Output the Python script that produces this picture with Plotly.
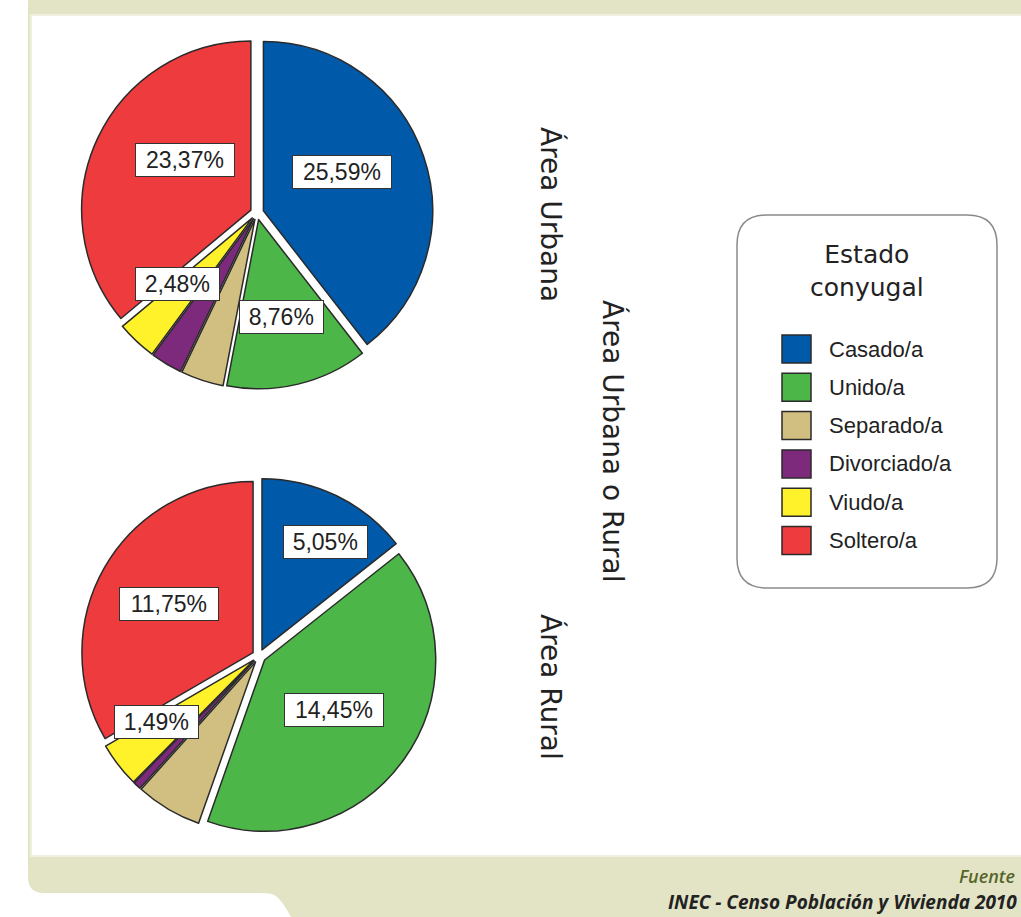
import math
import plotly.graph_objects as go

W, H = 1021, 917

# ---------------- data ----------------
categories = ["Casado/a", "Unido/a", "Separado/a", "Divorciado/a", "Viudo/a", "Soltero/a"]
urbana = [25.59, 8.76, 2.65, 1.95, 2.48, 23.37]
rural = [5.05, 14.45, 2.20, 0.26, 1.49, 11.75]
labeled = ["Casado/a", "Unido/a", "Viudo/a", "Soltero/a"]
legend_title = "Estado<br>conyugal"
panel_titles = ["Área Urbana", "Área Rural"]
axis_title = "Área Urbana o Rural"
source_lines = ["Fuente", "INEC - Censo Población y Vivienda 2010"]

# ---------------- style ----------------
colors = ["#0059a9", "#4cb748", "#d1be81", "#7e2a7c", "#fff22b", "#ee3b3e"]
PULL = 0.04
BEIGE = "#e3e4c6"
LABEL_FONT = "Liberation Sans Narrow, Arial Narrow, Liberation Sans, Arial"
# pie placement (pixel centre and outer radius) and label placement (radius fraction, angle shift)
pies = [
    dict(values=urbana, cx=257, cy=213, R=176,
         lab_pos={"Casado/a": (0.52, -7), "Unido/a": (0.59, 0),
                  "Viudo/a": (0.59, 5), "Soltero/a": (0.49, 11)}),
    dict(values=rural, cx=259, cy=656, R=178,
         lab_pos={"Casado/a": (0.73, 4.6), "Unido/a": (0.50, 0),
                  "Viudo/a": (0.67, 5), "Soltero/a": (0.57, 0)}),
]


def X(px):
    return px / W


def Y(py):
    return 1 - py / H


def rounded_rect(x0, y0, x1, y1, r):
    return (f"M{X(x0 + r)},{Y(y0)} L{X(x1 - r)},{Y(y0)} Q{X(x1)},{Y(y0)} {X(x1)},{Y(y0 + r)} "
            f"L{X(x1)},{Y(y1 - r)} Q{X(x1)},{Y(y1)} {X(x1 - r)},{Y(y1)} "
            f"L{X(x0 + r)},{Y(y1)} Q{X(x0)},{Y(y1)} {X(x0)},{Y(y1 - r)} "
            f"L{X(x0)},{Y(y0 + r)} Q{X(x0)},{Y(y0)} {X(x0 + r)},{Y(y0)} Z")


def ann(px, py, text, **kw):
    d = dict(x=X(px), y=Y(py), xref="paper", yref="paper", text=text, showarrow=False,
             xanchor="center", yanchor="middle")
    d.update(kw)
    return d


fig = go.Figure()
annotations = []
shapes = []

for p in pies:
    R = p["R"]
    fig.add_trace(go.Pie(
        values=p["values"], labels=categories, sort=False, direction="clockwise",
        rotation=0, pull=[PULL] * len(categories), textinfo="none",
        hovertemplate="%{label}: %{value:.2f}%<extra></extra>",
        marker=dict(colors=colors, line=dict(color="#2a2a2a", width=1.5)),
        domain=dict(x=[X(p["cx"] - R), X(p["cx"] + R)], y=[Y(p["cy"] + R), Y(p["cy"] - R)]),
        showlegend=False,
    ))
    total = sum(p["values"])
    r_base = R / (1 + PULL)
    cum = 0.0
    for cat, v in zip(categories, p["values"]):
        mid_frac = (cum + v / 2) / total
        cum += v
        if cat not in labeled:
            continue
        f, dth = p["lab_pos"][cat]
        ang = mid_frac * 2 * math.pi + math.radians(dth)
        dist = (f + PULL) * r_base
        lx = p["cx"] + dist * math.sin(ang)
        ly = p["cy"] - dist * math.cos(ang)
        txt = f"{v:.2f}%".replace(".", ",")
        annotations.append(ann(
            lx, ly, txt,
            font=dict(family=LABEL_FONT, size=23, color="#222"),
            bgcolor="white", bordercolor="#333", borderwidth=1, borderpad=3,
            width=15.3 * len(txt), align="center",
        ))

# rotated titles
for txt, (px, py) in zip(panel_titles, [(551, 214), (551, 687)]):
    annotations.append(ann(px, py, txt, textangle=90,
                           font=dict(family="DejaVu Sans", size=28, color="#222")))
annotations.append(ann(613, 441, axis_title, textangle=90,
                       font=dict(family="DejaVu Sans", size=28, color="#222")))

# legend
shapes.append(dict(type="path", path=rounded_rect(737, 215, 997, 588, 30), xref="paper", yref="paper",
                   line=dict(color="#8a8a8a", width=1.5), fillcolor="white", layer="below"))
annotations.append(ann(867, 271, legend_title, align="center",
                       font=dict(family="DejaVu Sans", size=25, color="#222")))
for i, (cat, col) in enumerate(zip(categories, colors)):
    y0 = 335 + i * 38.3
    shapes.append(dict(type="rect", xref="paper", yref="paper", x0=X(782), x1=X(811),
                       y0=Y(y0), y1=Y(y0 + 28), fillcolor=col,
                       line=dict(color="#2a2a2a", width=1.5)))
    annotations.append(ann(827, y0 + 14, cat, xanchor="left",
                           font=dict(family=LABEL_FONT, size=22, color="#222")))

# frame
frame = (f"M{X(28)},{Y(0)} L{X(1021)},{Y(0)} L{X(1021)},{Y(917)} L{X(291)},{Y(917)} "
         f"Q{X(283)},{Y(902)} {X(276)},{Y(896)} Q{X(272)},{Y(893)} {X(262)},{Y(893)} "
         f"L{X(44)},{Y(893)} Q{X(28)},{Y(893)} {X(28)},{Y(877)} Z")
shapes.insert(0, dict(type="path", path=frame, xref="paper", yref="paper",
                      fillcolor=BEIGE, line=dict(width=0), layer="below"))
shapes.insert(1, dict(type="rect", xref="paper", yref="paper", x0=X(31), x1=X(1023),
                      y0=Y(856), y1=Y(15), fillcolor="white",
                      line=dict(color="#eff0e0", width=2), layer="below"))

annotations.append(ann(1017, 876, f"<i>{source_lines[0]}</i>", xanchor="right",
                       font=dict(family="Open Sans, Lato", size=18, color="#56652a", weight=600)))
annotations.append(ann(1019, 902, f"<b><i>{source_lines[1]}</i></b>", xanchor="right",
                       font=dict(family="Open Sans, Lato", size=19, color="#222")))

fig.update_layout(width=W, height=H, margin=dict(l=0, r=0, t=0, b=0),
                  paper_bgcolor="white", plot_bgcolor="white",
                  shapes=shapes, annotations=annotations, showlegend=False)
fig.write_html("out.html", config={"displayModeBar": False},
               post_script="document.body.style.margin='0';document.body.style.overflow='hidden';")
